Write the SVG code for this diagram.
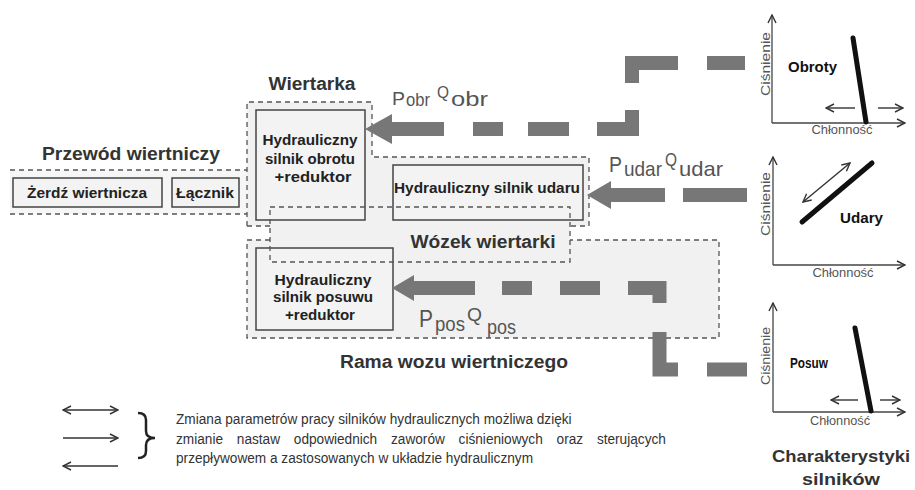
<svg xmlns="http://www.w3.org/2000/svg" width="915" height="490" viewBox="0 0 915 490">
<defs>
<marker id="v" viewBox="0 0 10 10" refX="9" refY="5" markerWidth="10" markerHeight="10" markerUnits="userSpaceOnUse" orient="auto-start-reverse">
<path d="M1,1 L9,5 L1,9" fill="none" stroke="#333" stroke-width="1.4"/>
</marker>
</defs>
<style>
.dash{fill:none;stroke:#555;stroke-width:1.3;stroke-dasharray:5 4}
.reg{fill:#f1f1f1;stroke:none}
.box{fill:#f3f3f3;stroke:#444;stroke-width:1.5}
.title{font-family:"Liberation Sans",Arial,sans-serif;font-weight:bold;font-size:18px;fill:#333;text-anchor:middle}
.bt{font-family:"Liberation Sans",Arial,sans-serif;font-weight:bold;font-size:14px;fill:#222;text-anchor:middle}
.pq{font-family:"Liberation Sans",Arial,sans-serif;fill:#555}
.conn{fill:none;stroke:#777;stroke-width:14;stroke-linejoin:miter;stroke-linecap:butt}
.head{fill:#777}
.ax{fill:none;stroke:#444;stroke-width:1.3}
.thick{stroke:#111;stroke-width:5;stroke-linecap:round}
.thin{fill:none;stroke:#333;stroke-width:1.4}
.ct{font-family:"Liberation Sans",Arial,sans-serif;font-size:13px;fill:#555}
.cb{font-family:"Liberation Sans",Arial,sans-serif;font-weight:bold;font-size:14px;fill:#111}
.leg{font-family:"Liberation Sans",Arial,sans-serif;font-size:15px;fill:#333}
</style>
<rect width="915" height="490" fill="#fff"/>

<!-- regions -->
<g id="regions">
<rect x="10" y="170" width="237" height="44" fill="#f6f6f6"/>
<polygon class="reg" points="247,102 372,102 372,157 589,157 589,226 247,226"/>
<rect class="reg" x="247" y="240" width="472" height="98"/>
<rect class="reg" x="270" y="207" width="300" height="55"/>
<path class="dash" d="M10,170 H247 M10,214 H247"/>
<path class="dash" d="M247,226 V102 H372 V157 H589 V226 H570 M247,226 H270"/>
<path class="dash" d="M270,240 H247 V338 H719 V240 H570"/>
</g>

<g id="przewod">
<text class="title" x="131" y="160" textLength="178" lengthAdjust="spacingAndGlyphs">Przewód wiertniczy</text>
</g>
<g id="zerdz">
<rect class="box" x="13" y="178" width="149" height="29"/>
<text class="bt" x="87" y="198" textLength="120" lengthAdjust="spacingAndGlyphs">Żerdź wiertnicza</text>
</g>
<g id="lacznik">
<rect class="box" x="172" y="178" width="67" height="29"/>
<text class="bt" x="205" y="198" textLength="58" lengthAdjust="spacingAndGlyphs">Łącznik</text>
</g>

<g id="wiertarka">
<text class="title" x="312" y="90" textLength="87" lengthAdjust="spacingAndGlyphs">Wiertarka</text>
</g>
<g id="silnik-obrotu">
<rect class="box" x="256" y="110" width="109" height="110"/>
<text class="bt" x="310" y="145" textLength="95" lengthAdjust="spacingAndGlyphs">Hydrauliczny</text>
<text class="bt" x="310" y="164" textLength="90" lengthAdjust="spacingAndGlyphs">silnik obrotu</text>
<text class="bt" x="313" y="182" textLength="77" lengthAdjust="spacingAndGlyphs">+reduktor</text>
</g>
<g id="silnik-udaru">
<rect class="box" x="393" y="165" width="190" height="55"/>
<text class="bt" x="487" y="193" textLength="186" lengthAdjust="spacingAndGlyphs">Hydrauliczny silnik udaru</text>
</g>
<g id="silnik-posuwu">
<rect class="box" x="256" y="248" width="137" height="82"/>
<text class="bt" x="323" y="285" textLength="97" lengthAdjust="spacingAndGlyphs">Hydrauliczny</text>
<text class="bt" x="323" y="302" textLength="100" lengthAdjust="spacingAndGlyphs">silnik posuwu</text>
<text class="bt" x="320" y="320" textLength="70" lengthAdjust="spacingAndGlyphs">+reduktor</text>
</g>
<g id="wozek">
<rect class="dash" x="270" y="207" width="300" height="55"/>
<text class="title" x="483" y="248" textLength="145" lengthAdjust="spacingAndGlyphs">Wózek wiertarki</text>
</g>
<g id="rama">
<text class="title" x="454" y="368" textLength="228" lengthAdjust="spacingAndGlyphs">Rama wozu wiertniczego</text>
</g>

<!-- connectors -->
<g id="connectors">
<polygon class="head" points="365,129 392,114 392,144"/>
<path class="conn" d="M390,129 H444 M473,129 H503 M528,129 H569 M597,129 H632 V110 M632,83 V63 H678 M707,63 H745"/>
<polygon class="head" points="587,195 611,181 611,209"/>
<path class="conn" d="M609,195 H665 M683,195 H747"/>
<polygon class="head" points="392,288 414,275 414,301"/>
<path class="conn" d="M412,288 H475 M502,288 H532 M560,288 H600 M628,288 H659.5 V303 M659.5,332 V369.5 H678 M707,369.5 H747"/>
</g>

<g id="labels">
<text class="pq" x="392" y="105" font-size="19" textLength="13" lengthAdjust="spacingAndGlyphs">P</text>
<text class="pq" x="406" y="106" font-size="18" textLength="24" lengthAdjust="spacingAndGlyphs">obr</text>
<text class="pq" x="437" y="98" font-size="16" textLength="12" lengthAdjust="spacingAndGlyphs">Q</text>
<text class="pq" x="451" y="106" font-size="21" textLength="37" lengthAdjust="spacingAndGlyphs">obr</text>
<text class="pq" x="609" y="172" font-size="22" textLength="13" lengthAdjust="spacingAndGlyphs">P</text>
<text class="pq" x="624" y="176" font-size="21" textLength="38" lengthAdjust="spacingAndGlyphs">udar</text>
<text class="pq" x="665" y="166" font-size="19" textLength="12" lengthAdjust="spacingAndGlyphs">Q</text>
<text class="pq" x="679" y="176" font-size="21" textLength="44" lengthAdjust="spacingAndGlyphs">udar</text>
<text class="pq" x="419" y="327" font-size="23" textLength="14" lengthAdjust="spacingAndGlyphs">P</text>
<text class="pq" x="435" y="331" font-size="21" textLength="30" lengthAdjust="spacingAndGlyphs">pos</text>
<text class="pq" x="467" y="321" font-size="18" textLength="15" lengthAdjust="spacingAndGlyphs">Q</text>
<text class="pq" x="487" y="334" font-size="21" textLength="29" lengthAdjust="spacingAndGlyphs">pos</text>
</g>

<!-- charts -->
<g id="chart-obroty">
<path class="ax" d="M772,123 V15" marker-end="url(#v)"/>
<path class="ax" d="M772,123 H905" marker-end="url(#v)"/>
<text class="ct" transform="translate(770,64) rotate(-90)" text-anchor="middle" textLength="64" lengthAdjust="spacingAndGlyphs">Ciśnienie</text>
<text class="ct" x="842" y="134" text-anchor="middle" textLength="61" lengthAdjust="spacingAndGlyphs">Chłonność</text>
<line class="thick" x1="853" y1="38" x2="866" y2="122"/>
<text class="cb" x="788" y="72" textLength="49" lengthAdjust="spacingAndGlyphs">Obroty</text>
<path class="thin" d="M855,108 H826" marker-end="url(#v)"/>
<path class="thin" d="M878,108 H903" marker-end="url(#v)"/>
</g>
<g id="chart-udary">
<path class="ax" d="M773,265 V157" marker-end="url(#v)"/>
<path class="ax" d="M773,265 H905" marker-end="url(#v)"/>
<text class="ct" transform="translate(770,204) rotate(-90)" text-anchor="middle" textLength="64" lengthAdjust="spacingAndGlyphs">Ciśnienie</text>
<text class="ct" x="843" y="277" text-anchor="middle" textLength="61" lengthAdjust="spacingAndGlyphs">Chłonność</text>
<line class="thick" x1="802" y1="222" x2="872" y2="163"/>
<path class="thin" d="M803,202 L850,163" marker-start="url(#v)" marker-end="url(#v)"/>
<text class="cb" x="840" y="223" textLength="43" lengthAdjust="spacingAndGlyphs">Udary</text>
</g>
<g id="chart-posuw">
<path class="ax" d="M773,412 V303" marker-end="url(#v)"/>
<path class="ax" d="M773,412 H905" marker-end="url(#v)"/>
<text class="ct" transform="translate(770,356) rotate(-90)" text-anchor="middle" textLength="58" lengthAdjust="spacingAndGlyphs">Ciśnienie</text>
<text class="ct" x="840" y="425" text-anchor="middle" textLength="60" lengthAdjust="spacingAndGlyphs">Chłonność</text>
<line class="thick" x1="855" y1="328" x2="871" y2="411"/>
<text class="cb" x="790" y="368" textLength="38" lengthAdjust="spacingAndGlyphs">Posuw</text>
<path class="thin" d="M858,400 H831" marker-end="url(#v)"/>
<path class="thin" d="M880,400 H900" marker-end="url(#v)"/>
<text class="title" x="841" y="462" style="font-size:16px" textLength="138" lengthAdjust="spacingAndGlyphs">Charakterystyki</text>
<text class="title" x="841" y="485" style="font-size:16px" textLength="78" lengthAdjust="spacingAndGlyphs">silników</text>
</g>

<!-- legend -->
<g id="legend">
<path class="thin" d="M63,410 H118" marker-start="url(#v)" marker-end="url(#v)"/>
<path class="thin" d="M63,438 H118" marker-end="url(#v)"/>
<path class="thin" d="M118,466 H63" marker-end="url(#v)"/>
<path d="M138,413 Q146,413 146,420 V431 Q146,438 155,438 Q146,438 146,445 V451 Q146,458 138,458" fill="none" stroke="#222" stroke-width="2.5"/>
<g transform="translate(176,0) scale(0.91,1)">
<text class="leg" x="0" y="424">Zmiana parametrów pracy silników hydraulicznych możliwa dzięki</text>
<text class="leg" x="0" y="444" style="word-spacing:11px">zmianie nastaw odpowiednich zaworów ciśnieniowych oraz sterujących</text>
<text class="leg" x="0" y="463">przepływowem a zastosowanych w układzie hydraulicznym</text>
</g>
</g>
</svg>
